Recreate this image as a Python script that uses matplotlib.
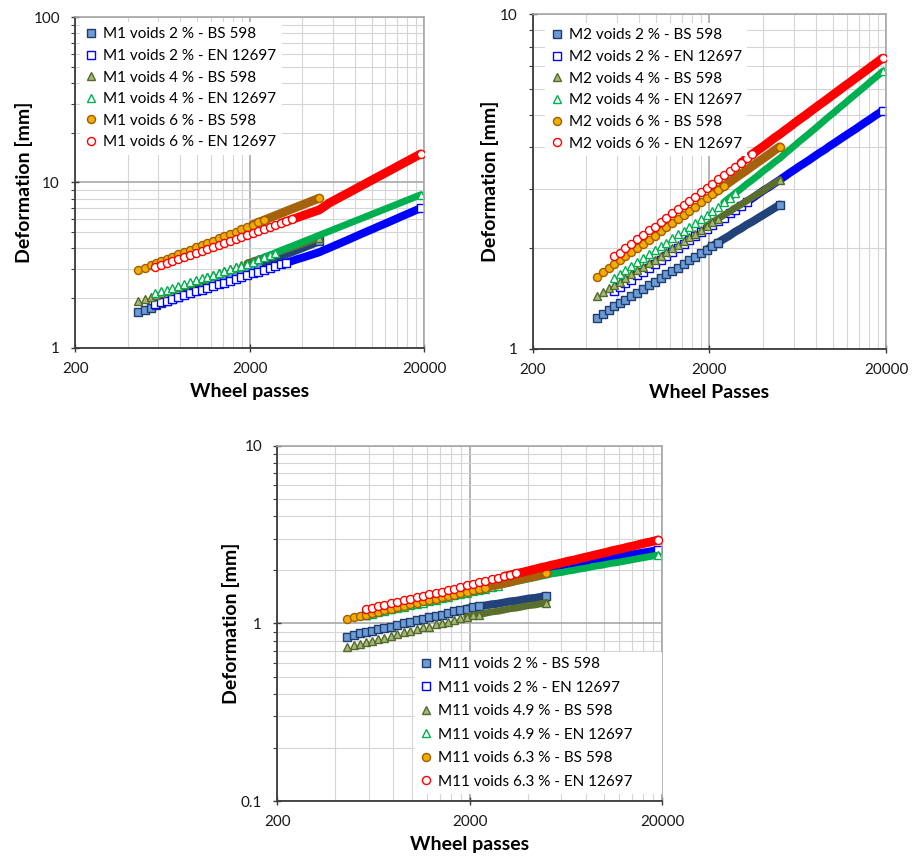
import numpy as np
import matplotlib
matplotlib.use('Agg')
import matplotlib.pyplot as plt
from matplotlib.ticker import FixedLocator, LogLocator, NullFormatter, FuncFormatter

plt.rcParams['font.family'] = ['Lato', 'DejaVu Sans']

# wheel passes at which readings were taken
bs_passes = [460, 500, 540, 580, 620, 670, 720, 780, 840, 910, 980, 1060, 1140, 1230, 1330,
             1430, 1540, 1660, 1790, 1930, 2080, 2240, 2410, 2600, 2800, 3020, 3250, 3500,
             3770, 4060, 4370, 4690, 5000]
en_passes = [575, 620, 670, 720, 780, 840, 910, 980, 1060, 1140, 1230, 1330, 1430, 1540, 1660,
             1790, 1930, 2080, 2240, 2410, 2600, 2800, 3020, 3250, 3500, 3770, 4060, 4370,
             4690, 5000, 5350, 5700, 6100, 6500, 6950, 7400, 7900, 8450, 9000, 9600, 10250,
             10950, 11700, 12500, 13350, 14250, 15200, 16250, 17350, 18500, 19100]

# M1 deformation [mm]
m1_bs2 = [1.64, 1.70, 1.75, 1.81, 1.86, 1.92, 1.97, 2.04, 2.10, 2.17, 2.24, 2.32, 2.39, 2.46, 2.54,
          2.62, 2.70, 2.79, 2.88, 2.97, 3.06, 3.15, 3.25, 3.36, 3.46, 3.57, 3.68, 3.79, 3.91,
          4.03, 4.16, 4.28, 4.40]
m1_en2 = [1.83, 1.88, 1.93, 1.97, 2.03, 2.08, 2.13, 2.19, 2.25, 2.30, 2.36, 2.42, 2.48, 2.55, 2.61,
          2.68, 2.75, 2.82, 2.89, 2.96, 3.03, 3.11, 3.19, 3.27, 3.35, 3.44, 3.52, 3.61, 3.70,
          3.78, 3.90, 4.01, 4.14, 4.26, 4.39, 4.52, 4.66, 4.81, 4.95, 5.10, 5.25, 5.42, 5.58,
          5.75, 5.93, 6.11, 6.30, 6.49, 6.69, 6.89, 6.99]
m1_bs4 = [1.92, 1.98, 2.03, 2.09, 2.14, 2.20, 2.26, 2.33, 2.39, 2.46, 2.53, 2.61, 2.68, 2.75, 2.83,
          2.91, 2.99, 3.07, 3.16, 3.25, 3.34, 3.43, 3.52, 3.62, 3.72, 3.83, 3.93, 4.04, 4.15,
          4.26, 4.38, 4.50, 4.60]
m1_en4 = [2.13, 2.19, 2.25, 2.30, 2.37, 2.43, 2.49, 2.56, 2.63, 2.69, 2.76, 2.84, 2.91, 2.98, 3.06,
          3.14, 3.22, 3.31, 3.42, 3.52, 3.64, 3.75, 3.88, 4.00, 4.12, 4.25, 4.39, 4.52, 4.66,
          4.79, 4.93, 5.06, 5.21, 5.35, 5.50, 5.65, 5.81, 5.97, 6.13, 6.30, 6.48, 6.66, 6.85,
          7.04, 7.24, 7.44, 7.65, 7.87, 8.09, 8.31, 8.42]
m1_bs6 = [2.94, 3.05, 3.15, 3.25, 3.34, 3.45, 3.55, 3.68, 3.79, 3.92, 4.05, 4.18, 4.31, 4.45, 4.60,
          4.75, 4.90, 5.05, 5.22, 5.38, 5.56, 5.73, 5.91, 6.10, 6.30, 6.50, 6.71, 6.92, 7.14,
          7.36, 7.59, 7.82, 8.04]
m1_en6 = [3.08, 3.16, 3.25, 3.34, 3.44, 3.54, 3.64, 3.74, 3.85, 3.96, 4.07, 4.19, 4.30, 4.42, 4.54,
          4.67, 4.80, 4.94, 5.07, 5.21, 5.36, 5.51, 5.66, 5.82, 5.98, 6.14, 6.32, 6.49, 6.66,
          6.82, 7.15, 7.50, 7.79, 8.08, 8.39, 8.69, 9.02, 9.38, 9.71, 10.08, 10.46, 10.86,
          11.27, 11.70, 12.15, 12.61, 13.08, 13.58, 14.10, 14.62, 14.89]

# M2 deformation [mm]
m2_bs2 = [1.24, 1.27, 1.31, 1.34, 1.37, 1.40, 1.44, 1.47, 1.51, 1.55, 1.59, 1.63, 1.67, 1.71, 1.75,
          1.80, 1.84, 1.88, 1.93, 1.98, 2.03, 2.08, 2.13, 2.18, 2.24, 2.29, 2.35, 2.40, 2.46,
          2.52, 2.58, 2.64, 2.70]
m2_en2 = [1.49, 1.53, 1.57, 1.61, 1.66, 1.70, 1.75, 1.80, 1.85, 1.90, 1.95, 2.00, 2.06, 2.11, 2.17,
          2.23, 2.29, 2.35, 2.41, 2.47, 2.54, 2.61, 2.68, 2.75, 2.82, 2.90, 2.98, 3.05, 3.13,
          3.20, 3.28, 3.36, 3.44, 3.52, 3.60, 3.68, 3.77, 3.86, 3.94, 4.04, 4.13, 4.23, 4.33,
          4.43, 4.53, 4.64, 4.75, 4.86, 4.98, 5.09, 5.15]
m2_bs4 = [1.44, 1.48, 1.52, 1.55, 1.59, 1.63, 1.67, 1.72, 1.76, 1.81, 1.85, 1.90, 1.95, 2.00, 2.05,
          2.10, 2.16, 2.21, 2.27, 2.33, 2.39, 2.45, 2.51, 2.57, 2.64, 2.70, 2.77, 2.84, 2.91,
          2.98, 3.06, 3.13, 3.20]
m2_en4 = [1.63, 1.68, 1.72, 1.77, 1.82, 1.87, 1.92, 1.97, 2.03, 2.08, 2.14, 2.20, 2.25, 2.31, 2.38,
          2.44, 2.51, 2.58, 2.66, 2.74, 2.83, 2.92, 3.01, 3.11, 3.20, 3.30, 3.41, 3.51, 3.62,
          3.71, 3.83, 3.94, 4.06, 4.18, 4.30, 4.42, 4.55, 4.69, 4.83, 4.97, 5.11, 5.27, 5.42,
          5.59, 5.75, 5.92, 6.09, 6.28, 6.46, 6.65, 6.75]
m2_bs6 = [1.64, 1.70, 1.75, 1.79, 1.84, 1.89, 1.95, 2.00, 2.06, 2.12, 2.18, 2.25, 2.31, 2.38, 2.45,
          2.52, 2.59, 2.66, 2.74, 2.82, 2.90, 2.98, 3.06, 3.15, 3.24, 3.33, 3.42, 3.52, 3.62,
          3.72, 3.82, 3.93, 4.02]
m2_en6 = [1.89, 1.94, 2.00, 2.06, 2.13, 2.19, 2.26, 2.32, 2.40, 2.47, 2.54, 2.62, 2.69, 2.77, 2.85,
          2.94, 3.03, 3.12, 3.21, 3.30, 3.40, 3.50, 3.60, 3.71, 3.82, 3.93, 4.04, 4.16, 4.28,
          4.38, 4.50, 4.61, 4.74, 4.86, 4.98, 5.11, 5.24, 5.38, 5.51, 5.65, 5.80, 5.95, 6.11,
          6.26, 6.43, 6.59, 6.76, 6.94, 7.12, 7.30, 7.39]

# M11 deformation [mm]
m11_bs2 = [0.84, 0.86, 0.88, 0.89, 0.91, 0.93, 0.94, 0.96, 0.98, 1.00, 1.02, 1.04, 1.06, 1.08, 1.10,
           1.12, 1.15, 1.17, 1.19, 1.21, 1.23, 1.25, 1.26, 1.28, 1.29, 1.31, 1.33, 1.34, 1.36,
           1.38, 1.39, 1.41, 1.43]
m11_en2 = [1.12, 1.15, 1.17, 1.19, 1.22, 1.25, 1.27, 1.30, 1.33, 1.36, 1.38, 1.41, 1.44, 1.47, 1.50,
           1.54, 1.57, 1.60, 1.63, 1.67, 1.70, 1.74, 1.77, 1.81, 1.85, 1.89, 1.92, 1.96, 2.00,
           2.04, 2.06, 2.09, 2.11, 2.14, 2.16, 2.19, 2.21, 2.24, 2.26, 2.29, 2.32, 2.34, 2.37,
           2.40, 2.43, 2.45, 2.48, 2.51, 2.54, 2.57, 2.59]
m11_bs49 = [0.74, 0.76, 0.77, 0.79, 0.80, 0.82, 0.83, 0.85, 0.87, 0.89, 0.91, 0.93, 0.95, 0.96, 0.99,
            1.00, 1.02, 1.05, 1.07, 1.09, 1.11, 1.12, 1.14, 1.16, 1.17, 1.19, 1.21, 1.22, 1.24,
            1.26, 1.27, 1.29, 1.31]
m11_en49 = [1.11, 1.13, 1.16, 1.18, 1.20, 1.22, 1.24, 1.27, 1.29, 1.31, 1.34, 1.36, 1.39, 1.41, 1.44,
            1.46, 1.49, 1.52, 1.54, 1.57, 1.60, 1.63, 1.66, 1.69, 1.72, 1.75, 1.78, 1.81, 1.84,
            1.87, 1.90, 1.92, 1.94, 1.97, 1.99, 2.02, 2.04, 2.07, 2.10, 2.12, 2.15, 2.18, 2.20,
            2.23, 2.26, 2.29, 2.32, 2.35, 2.38, 2.41, 2.42]
m11_bs63 = [1.06, 1.08, 1.10, 1.12, 1.14, 1.16, 1.19, 1.21, 1.23, 1.25, 1.28, 1.30, 1.33, 1.35, 1.38,
            1.40, 1.43, 1.45, 1.48, 1.51, 1.54, 1.56, 1.59, 1.62, 1.65, 1.68, 1.71, 1.75, 1.78,
            1.81, 1.84, 1.88, 1.91]
m11_en63 = [1.20, 1.22, 1.25, 1.27, 1.30, 1.32, 1.35, 1.37, 1.40, 1.43, 1.46, 1.49, 1.51, 1.54, 1.57,
            1.61, 1.64, 1.67, 1.70, 1.73, 1.77, 1.80, 1.84, 1.87, 1.91, 1.94, 1.98, 2.02, 2.06,
            2.09, 2.13, 2.16, 2.20, 2.24, 2.27, 2.31, 2.35, 2.39, 2.43, 2.47, 2.51, 2.56, 2.60,
            2.64, 2.69, 2.73, 2.78, 2.83, 2.87, 2.92, 2.95]

m1_labels = ['M1 voids 2 % - BS 598', 'M1 voids 2 % - EN 12697', 'M1 voids 4 % - BS 598',
             'M1 voids 4 % - EN 12697', 'M1 voids 6 % - BS 598', 'M1 voids 6 % - EN 12697']
m2_labels = ['M2 voids 2 % - BS 598', 'M2 voids 2 % - EN 12697', 'M2 voids 4 % - BS 598',
             'M2 voids 4 % - EN 12697', 'M2 voids 6 % - BS 598', 'M2 voids 6 % - EN 12697']
m11_labels = ['M11 voids 2 % - BS 598', 'M11 voids 2 % - EN 12697', 'M11 voids 4.9 % - BS 598',
              'M11 voids 4.9 % - EN 12697', 'M11 voids 6.3 % - BS 598', 'M11 voids 6.3 % - EN 12697']

x_major = [200, 2000, 20000]
x_minor = [400, 600, 800, 1000, 1200, 1400, 1600, 1800,
           4000, 6000, 8000, 10000, 12000, 14000, 16000, 18000]

# marker style per series (BS2, EN2, BS4, EN4, BS6, EN6)
styles = [dict(marker='s', ms=5.2, mfc='#6d9bd3', mec='#1f3c6e'),
          dict(marker='s', ms=5.2, mfc='white', mec='#0000ff'),
          dict(marker='^', ms=6.2, mfc='#a3b97a', mec='#55692a'),
          dict(marker='^', ms=6.2, mfc='white', mec='#00b050'),
          dict(marker='o', ms=5.8, mfc='#f2ae00', mec='#a35c00'),
          dict(marker='o', ms=5.8, mfc='white', mec='#ff0000')]
# colour of the heavily overlapped (dense) part of each series
dense_col = ['#22427a', '#0000ff', '#5b6f2d', '#00b050', '#a5620a', '#ff0000']
dense_lw = [5.8, 5.8, 5.0, 5.0, 6.4, 6.4]
dense_from = [2000, 3000, 2000, 2600, 2200, 3200]  # passes where markers merge


def draw_panel(ax, series, labels, ylim, xlabel, leg_kw):
    xs = [bs_passes, en_passes] * 3
    for k, (x, y, st, lab) in enumerate(zip(xs, series, styles, labels)):
        z = 2 + 0.1 * k
        x = np.array(x)
        y = np.array(y)
        i0 = np.searchsorted(x, dense_from[k])
        ax.plot(x[i0 - 1:], y[i0 - 1:], color=dense_col[k], lw=dense_lw[k],
                solid_capstyle='round', zorder=z)
        ax.plot(x[:i0 + 2], y[:i0 + 2], linestyle='none', mew=1.0, label=lab, zorder=z + 0.01, **st)
        ax.plot(x[-1:], y[-1:], linestyle='none', mew=1.0, zorder=z + 0.02, **st)

    ax.set_xscale('log')
    ax.set_yscale('log')
    ax.set_xlim(200, 20000)
    ax.set_ylim(*ylim)
    ax.xaxis.set_major_locator(FixedLocator(x_major))
    ax.xaxis.set_minor_locator(FixedLocator(x_minor))
    ax.xaxis.set_major_formatter(FuncFormatter(lambda v, p: '%d' % v))
    ax.xaxis.set_minor_formatter(NullFormatter())
    ax.yaxis.set_major_locator(LogLocator(base=10))
    ax.yaxis.set_minor_locator(LogLocator(base=10, subs=range(2, 10)))
    ax.yaxis.set_major_formatter(FuncFormatter(lambda v, p: '%g' % v))
    ax.yaxis.set_minor_formatter(NullFormatter())

    ax.grid(which='major', color='#a8a8a8', lw=1.2)
    ax.grid(which='minor', color='#d5d5d5', lw=0.8)
    ax.set_axisbelow(True)
    for s in ['left', 'bottom']:
        ax.spines[s].set_color('#3c3c3c')
        ax.spines[s].set_linewidth(1.3)
    for s in ['top', 'right']:
        ax.spines[s].set_color('#a8a8a8')
        ax.spines[s].set_linewidth(1.2)

    ax.tick_params(which='major', direction='inout', length=6, width=1.0, color='#3c3c3c',
                   labelsize=11, labelcolor='#1a1a1a')
    ax.tick_params(axis='x', which='major', pad=7)
    ax.tick_params(axis='y', which='major', pad=8)
    ax.tick_params(axis='x', which='minor', length=0)
    ax.tick_params(axis='y', which='minor', direction='out', length=3, width=0.8, color='#3c3c3c')

    ax.set_xlabel(xlabel, fontsize=14, fontweight='bold', labelpad=5)
    ax.set_ylabel('Deformation [mm]', fontsize=14, fontweight='bold', labelpad=0.5)

    leg = ax.legend(frameon=True, fancybox=False, edgecolor='none', facecolor='white',
                    framealpha=1.0, numpoints=1, handlelength=0.8, handletextpad=0.4,
                    borderpad=0.35, borderaxespad=0, fontsize=11, **leg_kw)
    leg.set_zorder(5)


fig = plt.figure(figsize=(9.18, 8.57), dpi=100)
ax1 = fig.add_axes([0.082, 0.5943, 0.380, 0.3855])
ax2 = fig.add_axes([0.5803, 0.5928, 0.3849, 0.3905])
ax3 = fig.add_axes([0.3021, 0.0653, 0.4191, 0.4146])

draw_panel(ax1, [m1_bs2, m1_en2, m1_bs4, m1_en4, m1_bs6, m1_en6], m1_labels, (1, 100),
           'Wheel passes', dict(loc='upper left', bbox_to_anchor=(0.013, 0.986), labelspacing=0.5))
draw_panel(ax2, [m2_bs2, m2_en2, m2_bs4, m2_en4, m2_bs6, m2_en6], m2_labels, (1, 10),
           'Wheel Passes', dict(loc='upper left', bbox_to_anchor=(0.035, 0.974), labelspacing=0.5))
draw_panel(ax3, [m11_bs2, m11_en2, m11_bs49, m11_en49, m11_bs63, m11_en63], m11_labels, (0.1, 10),
           'Wheel passes', dict(loc='lower left', bbox_to_anchor=(0.357, 0.02, 0.643, 0.42),
                                mode='expand', labelspacing=0.62))

fig.savefig('out.png', dpi=100, facecolor='white')
